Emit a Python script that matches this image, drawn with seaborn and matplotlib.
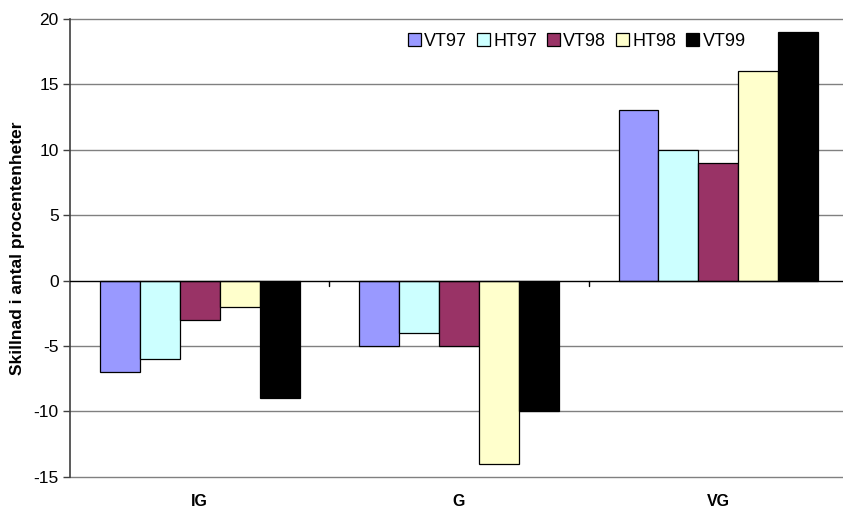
import pandas as pd
import matplotlib.pyplot as plt
import seaborn as sns

categories = ["IG", "G", "VG"]
series = ["VT97", "HT97", "VT98", "HT98", "VT99"]
vt97 = [-7, -5, 13]
ht97 = [-6, -4, 10]
vt98 = [-3, -5, 9]
ht98 = [-2, -14, 16]
vt99 = [-9, -10, 19]
colors = ["#9999FF", "#CCFFFF", "#993366", "#FFFFCC", "#000000"]

rows = []
for name, vals in zip(series, [vt97, ht97, vt98, ht98, vt99]):
    for cat, v in zip(categories, vals):
        rows.append({"Kategori": cat, "Serie": name, "Varde": v})
df = pd.DataFrame(rows)

sns.set_style("white")
plt.rcParams["font.family"] = ["Liberation Sans", "DejaVu Sans"]
plt.rcParams["axes.unicode_minus"] = False
plt.rcParams["text.color"] = "black"
plt.rcParams["axes.labelcolor"] = "black"
plt.rcParams["xtick.color"] = "black"
plt.rcParams["ytick.color"] = "black"

fig = plt.figure(figsize=(8.43, 5.09), dpi=100)
ax = fig.add_axes([0.083, 0.063, 0.923, 0.9])

sns.barplot(data=df, x="Kategori", y="Varde", hue="Serie", order=categories,
            hue_order=series, palette=colors, width=0.77, gap=0,
            edgecolor="black", linewidth=0.9, saturation=1, ax=ax, zorder=3)

ax.set_ylim(-15, 20)
ax.set_yticks(range(-15, 21, 5))
ax.set_xlim(-0.5, 2.5)
for y in range(-15, 21, 5):
    if y != 0:
        ax.axhline(y, color="#808080", linewidth=1, zorder=0, clip_on=False)
ax.axhline(0, color="black", linewidth=1, zorder=4)
for b in [0.5, 1.5]:
    ax.plot([b, b], [0, -0.4], color="black", linewidth=1, zorder=4)

for s in ["top", "right", "bottom"]:
    ax.spines[s].set_visible(False)
ax.spines["left"].set_color("#404040")
ax.spines["left"].set_linewidth(1.2)
ax.tick_params(axis="y", direction="out", length=5, width=1, color="#404040",
               left=True, labelsize=12.5, pad=3)
ax.tick_params(axis="x", length=0, labelsize=11.5, pad=12)
for t in ax.get_xticklabels():
    t.set_fontweight("bold")

ax.set_xlabel("")
ax.set_ylabel("Skillnad i antal procentenheter", fontsize=12.5, fontweight="bold", labelpad=6)

ax.legend(loc="upper left", bbox_to_anchor=(0.425, 0.985), ncol=5, frameon=False,
          fontsize=13, handlelength=0.7, handleheight=0.7, handletextpad=0.2,
          columnspacing=0.55, borderaxespad=0)

fig.savefig("out.png", dpi=100)
